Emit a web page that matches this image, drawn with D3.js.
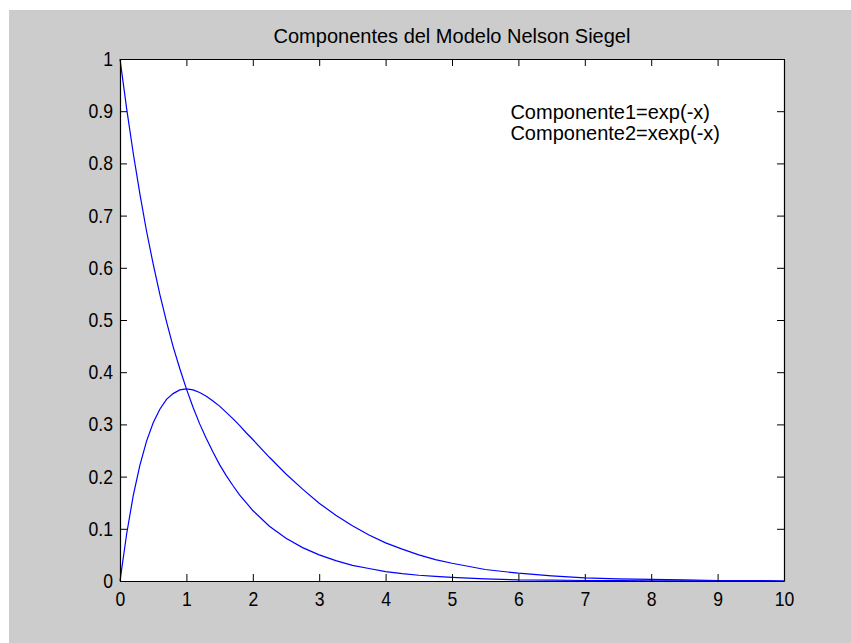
<!DOCTYPE html>
<html>
<head>
<meta charset="utf-8">
<script src="https://cdn.jsdelivr.net/npm/d3@7"></script>
<style>
  body { margin: 0; background: #ffffff; }
  svg text { font-family: "Liberation Sans", Arial, sans-serif; fill: #000; }
</style>
</head>
<body>
<svg id="vis-svg"></svg>
<script>
// values
var xValues = [0, 0.1, 0.2, 0.3, 0.4, 0.5, 0.6, 0.7, 0.8, 0.9,
  1.0, 1.1, 1.2, 1.3, 1.4, 1.5, 1.6, 1.7, 1.8, 1.9,
  2.0, 2.25, 2.5, 2.75, 3.0, 3.25, 3.5, 3.75, 4.0, 4.25, 4.5, 4.75,
  5.0, 5.5, 6.0, 6.5, 7.0, 7.5, 8.0, 8.5, 9.0, 9.5, 10.0];
var componente1 = [1.000, 0.905, 0.819, 0.741, 0.670, 0.607, 0.549, 0.497, 0.449, 0.407,
  0.368, 0.333, 0.301, 0.273, 0.247, 0.223, 0.202, 0.183, 0.165, 0.150,
  0.135, 0.105, 0.082, 0.064, 0.050, 0.039, 0.030, 0.024, 0.018, 0.014, 0.011, 0.009,
  0.007, 0.004, 0.002, 0.0015, 0.001, 0.0006, 0.0003, 0.0002, 0.0001, 0.0001, 0.0000];
var componente2 = [0.000, 0.090, 0.164, 0.222, 0.268, 0.303, 0.329, 0.348, 0.359, 0.366,
  0.368, 0.366, 0.361, 0.354, 0.345, 0.335, 0.323, 0.311, 0.298, 0.284,
  0.271, 0.237, 0.205, 0.176, 0.149, 0.126, 0.106, 0.088, 0.073, 0.061, 0.050, 0.041,
  0.034, 0.022, 0.015, 0.010, 0.006, 0.004, 0.003, 0.002, 0.001, 0.001, 0.000];
var xTicks = [0, 1, 2, 3, 4, 5, 6, 7, 8, 9, 10];
var yTicks = [0, 0.1, 0.2, 0.3, 0.4, 0.5, 0.6, 0.7, 0.8, 0.9, 1];
var title = "Componentes del Modelo Nelson Siegel";
var notes = ["Componente1=exp(-x)", "Componente2=xexp(-x)"];

function drawChart() {
  var width = 851;
  var height = 643;
  var margin = { top: 59, bottom: 62, left: 120, right: 67 };
  var tickLen = 7;
  var squeeze = 0.88; // tick labels are narrow in the original

  var svg = d3.select('#vis-svg')
    .attr('width', width)
    .attr('height', height);

  // grey figure background
  svg.append('rect')
    .attr('x', 9).attr('y', 10)
    .attr('width', width - 9).attr('height', height - 10)
    .attr('fill', '#cccccc');

  var xScale = d3.scaleLinear()
    .domain([0, 10])
    .range([margin.left, width - margin.right]);
  var yScale = d3.scaleLinear()
    .domain([0, 1])
    .range([height - margin.bottom, margin.top]);

  svg.append('rect')
    .attr('x', xScale(0)).attr('y', yScale(1))
    .attr('width', xScale(10) - xScale(0))
    .attr('height', yScale(0) - yScale(1))
    .attr('fill', '#ffffff');

  // the two curves
  var line = d3.line()
    .x(function(d) { return xScale(d[0]); })
    .y(function(d) { return yScale(d[1]); });

  [componente1, componente2].forEach(function(series) {
    svg.append('path')
      .datum(xValues.map(function(x, i) { return [x, series[i]]; }))
      .attr('fill', 'none')
      .attr('stroke', '#0000ff')
      .attr('stroke-width', 1.2)
      .attr('d', line);
  });

  // axes, MATLAB style box with inward ticks
  var fmt = function(d) { return d3.format('')(d); };
  svg.append('g')
    .attr('class', 'x axis')
    .attr('transform', `translate(0,${yScale(0)})`)
    .call(d3.axisBottom(xScale).tickValues(xTicks).tickSizeInner(-tickLen).tickSizeOuter(0).tickPadding(11).tickFormat(fmt));
  svg.append('g')
    .attr('transform', `translate(0,${yScale(1)})`)
    .call(d3.axisTop(xScale).tickValues(xTicks).tickSizeInner(-tickLen).tickSizeOuter(0).tickFormat(''));
  svg.append('g')
    .attr('class', 'y axis')
    .attr('transform', `translate(${xScale(0)},0)`)
    .call(d3.axisLeft(yScale).tickValues(yTicks).tickSizeInner(-tickLen).tickSizeOuter(0).tickPadding(7).tickFormat(fmt));
  svg.append('g')
    .attr('transform', `translate(${xScale(10)},0)`)
    .call(d3.axisRight(yScale).tickValues(yTicks).tickSizeInner(-tickLen).tickSizeOuter(0).tickFormat(''));

  svg.selectAll('.domain').attr('stroke', '#000').attr('stroke-width', 1.2);
  svg.selectAll('.tick line').attr('stroke', '#000');
  svg.selectAll('.tick text')
    .attr('font-family', '"Liberation Sans", Arial, sans-serif')
    .attr('font-size', 20)
    .attr('transform', function() {
      var x = +d3.select(this).attr('x') || 0;
      return `translate(${x},0) scale(${squeeze},1) translate(${-x},0)`;
    });

  svg.append('text')
    .attr('x', (xScale(0) + xScale(10)) / 2)
    .attr('y', 43)
    .attr('text-anchor', 'middle')
    .attr('font-size', 20)
    .text(title);

  svg.selectAll('.note')
    .data(notes)
    .enter()
    .append('text')
    .attr('class', 'note')
    .attr('x', xScale(5.88))
    .attr('y', function(d, i) { return 119 + i * 21; })
    .attr('font-size', 20)
    .text(function(d) { return d; });
}

drawChart();
</script>
</body>
</html>
